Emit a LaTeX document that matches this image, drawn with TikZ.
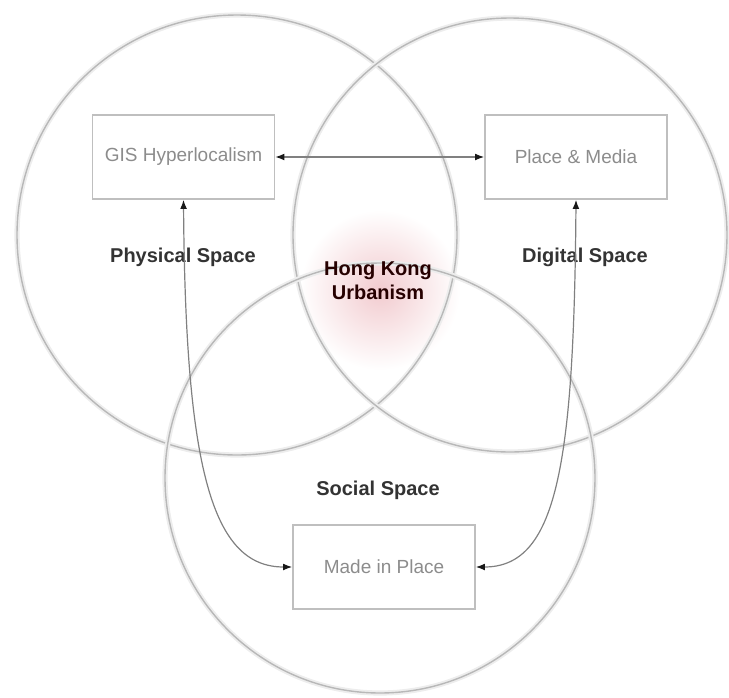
\documentclass[tikz,border=0pt]{standalone}
\usepackage{fontspec}
\setmainfont{Liberation Sans}
\usetikzlibrary{positioning,arrows.meta}
\definecolor{glow}{HTML}{F2CBCF}
\begin{document}
\begin{tikzpicture}[x=0.5pt,y=-0.5pt,
  ring/.style={circle,draw=black!28,line width=0.7pt,inner sep=0pt,
    preaction={draw=black!7,line width=2.6pt}},
  box/.style={draw=black!25,line width=0.8pt,minimum width=91pt,minimum height=42pt,
    font=\fontsize{9.5}{11}\selectfont,text=black!45},
  lab/.style={font=\bfseries\fontsize{10}{12}\selectfont,text=black!80,align=center},
  link/.style={{Latex[length=1.6mm,color=black!90]}-{Latex[length=1.6mm,color=black!90]},
    draw=black!50,line width=0.6pt}]
\useasboundingbox (0,0) rectangle (729,697);
% pink glow behind the centre
\shade[inner color=glow,outer color=white] (380,290) circle[radius=40pt];
% three spaces
\node[ring,minimum size=220pt] (phys) at (237,235) {};
\node[ring,minimum size=217pt] (digi) at (510,235) {};
\node[ring,minimum size=215pt] (soci) at (380,478) {};
\node[lab] (physlab) at (183,257) {Physical Space};
\node[lab] (digilab) at (585,257) {Digital Space};
\node[lab] (socilab) at (378,490) {Social Space};
\node[lab,text=black!75!red!60!black] (core) at (378,281) {Hong Kong\\Urbanism};
% boxes
\node[box] (gis) at (183.5,157) {GIS Hyperlocalism};
\node[box] (pm) at (576,157) {Place \& Media};
\node[box] (place) at (384,567) {Made in Place};
% links
\draw[link] (gis.east) -- (pm.west);
\draw[link] (gis.south) .. controls +(2,270) and +(-80,0) .. (place.west);
\draw[link] (pm.south) .. controls +(-2,270) and +(80,0) .. (place.east);
\end{tikzpicture}
\end{document}
